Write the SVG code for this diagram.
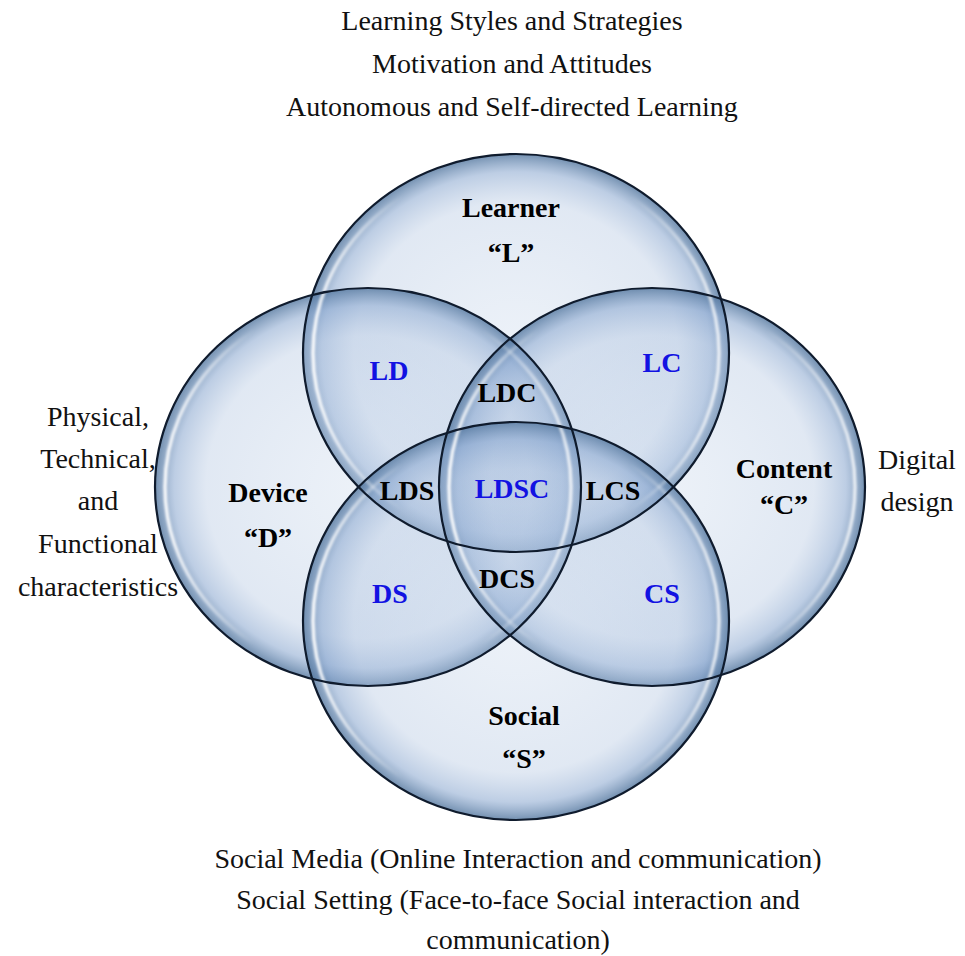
<svg xmlns="http://www.w3.org/2000/svg" xmlns:xlink="http://www.w3.org/1999/xlink" width="965" height="956" viewBox="0 0 965 956">
  <style>
    .note { font-family: "Liberation Serif", "Times New Roman", serif; font-size: 28px; fill: #111; text-anchor: middle; }
    .title { font-family: "Liberation Serif", "Times New Roman", serif; font-size: 28px; font-weight: bold; fill: #000; text-anchor: middle; }
    .pair { font-family: "Liberation Serif", "Times New Roman", serif; font-size: 28px; font-weight: bold; fill: #1212e2; text-anchor: middle; }
    .triple { font-family: "Liberation Serif", "Times New Roman", serif; font-size: 28px; font-weight: bold; fill: #000; text-anchor: middle; }
    .glass { fill: url(#glass); stroke: none; }
    .rim { fill: none; stroke: #0f1b2d; stroke-width: 2.2; }
    .shine { fill: none; stroke: url(#shine); stroke-width: 3.5; filter: url(#soft); }
  </style>
  <defs>
    <!-- translucent bubble fill, darker toward the rim -->
    <radialGradient id="glass" cx="0.5" cy="0.5" r="0.5">
      <stop offset="0" stop-color="#c2d3e9" stop-opacity="0.30"/>
      <stop offset="0.76" stop-color="#adc2df" stop-opacity="0.37"/>
      <stop offset="0.91" stop-color="#87a5ce" stop-opacity="0.55"/>
      <stop offset="1" stop-color="#55789f" stop-opacity="0.82"/>
    </radialGradient>
    <!-- bright glossy streaks on the left and right inner edges -->
    <linearGradient id="shine" x1="0" y1="0" x2="1" y2="0">
      <stop offset="0" stop-color="#ffffff" stop-opacity="0.9"/>
      <stop offset="0.22" stop-color="#ffffff" stop-opacity="0"/>
      <stop offset="0.78" stop-color="#ffffff" stop-opacity="0"/>
      <stop offset="1" stop-color="#ffffff" stop-opacity="0.75"/>
    </linearGradient>
    <filter id="soft" x="-5%" y="-5%" width="110%" height="110%">
      <feGaussianBlur stdDeviation="1.3"/>
    </filter>
    <ellipse id="shape-l" cx="516" cy="353" rx="213" ry="199"/>
    <ellipse id="shape-d" cx="368" cy="487" rx="213" ry="199"/>
    <ellipse id="shape-c" cx="652" cy="487" rx="213" ry="199"/>
    <ellipse id="shape-s" cx="516" cy="621" rx="213" ry="199"/>
  </defs>

  <rect width="965" height="956" fill="#ffffff"/>

  <!-- four overlapping sets -->
  <g id="node-learner"><use xlink:href="#shape-l" class="glass"/></g>
  <g id="node-device"><use xlink:href="#shape-d" class="glass"/></g>
  <g id="node-content"><use xlink:href="#shape-c" class="glass"/></g>
  <g id="node-social"><use xlink:href="#shape-s" class="glass"/></g>

  <!-- gloss rings just inside each outline -->
  <g id="gloss">
    <ellipse class="shine" cx="516" cy="353" rx="203" ry="189"/>
    <ellipse class="shine" cx="368" cy="487" rx="203" ry="189"/>
    <ellipse class="shine" cx="652" cy="487" rx="203" ry="189"/>
    <ellipse class="shine" cx="516" cy="621" rx="203" ry="189"/>
  </g>

  <!-- outlines on top so every boundary stays crisp -->
  <g id="outlines">
    <use xlink:href="#shape-l" class="rim"/>
    <use xlink:href="#shape-d" class="rim"/>
    <use xlink:href="#shape-c" class="rim"/>
    <use xlink:href="#shape-s" class="rim"/>
  </g>

  <!-- set names -->
  <g id="labels">
    <g id="label-learner">
      <text class="title" x="511" y="217">Learner</text>
      <text class="title" x="511" y="262">“L”</text>
    </g>
    <g id="label-device">
      <text class="title" x="268" y="502">Device</text>
      <text class="title" x="268" y="547">“D”</text>
    </g>
    <g id="label-content">
      <text class="title" x="784" y="478">Content</text>
      <text class="title" x="784" y="514">“C”</text>
    </g>
    <g id="label-social">
      <text class="title" x="524" y="725">Social</text>
      <text class="title" x="524" y="768">“S”</text>
    </g>

    <!-- intersections -->
    <g id="regions">
      <text class="pair" x="389" y="380">LD</text>
      <text class="pair" x="662" y="372">LC</text>
      <text class="pair" x="390" y="603">DS</text>
      <text class="pair" x="662" y="603">CS</text>
      <text class="triple" x="507" y="402">LDC</text>
      <text class="triple" x="407" y="500">LDS</text>
      <text class="triple" x="613" y="500">LCS</text>
      <text class="triple" x="507" y="588">DCS</text>
      <text class="pair" x="512" y="498">LDSC</text>
    </g>
  </g>

  <!-- descriptions of each set -->
  <g id="notes">
    <g id="notes-learner">
      <text class="note" x="512" y="30">Learning Styles and Strategies</text>
      <text class="note" x="512" y="73">Motivation and Attitudes</text>
      <text class="note" x="512" y="116">Autonomous and Self-directed Learning</text>
    </g>
    <g id="notes-device">
      <text class="note" x="98" y="426">Physical,</text>
      <text class="note" x="98" y="468">Technical,</text>
      <text class="note" x="98" y="510">and</text>
      <text class="note" x="98" y="553">Functional</text>
      <text class="note" x="98" y="596">characteristics</text>
    </g>
    <g id="notes-content">
      <text class="note" x="917" y="469">Digital</text>
      <text class="note" x="917" y="511">design</text>
    </g>
    <g id="notes-social">
      <text class="note" x="518" y="868">Social Media (Online Interaction and communication)</text>
      <text class="note" x="518" y="909">Social Setting (Face-to-face Social interaction and</text>
      <text class="note" x="518" y="949">communication)</text>
    </g>
  </g>
</svg>
